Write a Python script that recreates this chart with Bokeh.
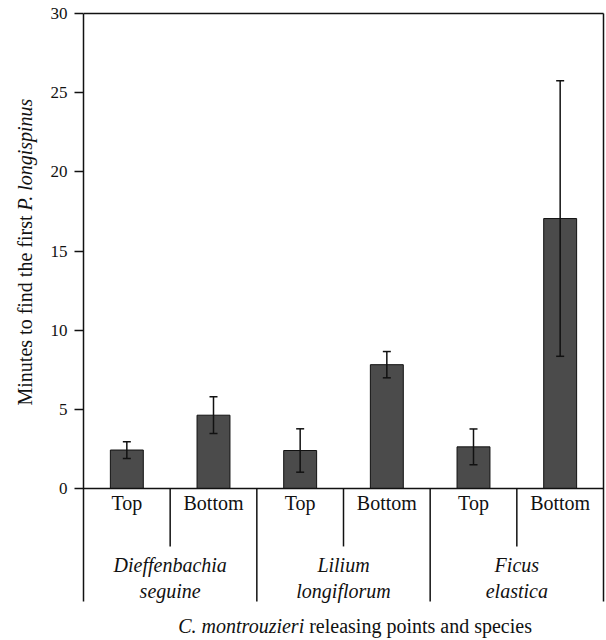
import math
from bokeh.plotting import figure
from bokeh.layouts import row
from bokeh.models import Range1d, FixedTicker, Label, Whisker, ColumnDataSource, TeeHead
from bokeh.core.properties import value
from bokeh.embed import file_html
from bokeh.resources import INLINE

# ---- data ----
species = ["Dieffenbachia seguine", "Lilium longiflorum", "Ficus elastica"]
positions = ["Top", "Bottom"]
means = [2.43, 4.63, 2.40, 7.82, 2.63, 17.05]
errors = [0.53, 1.16, 1.37, 0.83, 1.13, 8.70]
y_ticks = [0, 5, 10, 15, 20, 25, 30]
y_title_plain = "Minutes to find the first"
y_title_italic = "P. longispinus"
x_title_italic = "C. montrouzieri"
x_title_plain = "releasing points and species"

# ---- layout constants (page pixels) ----
H = 640
TITLE_W = 40            # width of the narrow figure holding the y title
MAIN_W = 606 - TITLE_W
FRAME_LEFT = 83         # page x of the value axis
N = len(species) * len(positions)
PX_X = 520 / N          # px per x unit
PX_Y = 475 / 30         # px per y unit
Y_TOP = 30 + 13 / PX_Y
Y_BOT = Y_TOP - H / PX_Y
FONT = "Liberation Serif"
FS = "20px"
INK = "#111111"
SUB_DEPTH = -3.66
GRP_DEPTH = -7.14
BASE_FIX = 8            # svg text baseline compensation (px)


def cy(page_y):
    return Y_TOP - (page_y - BASE_FIX) / PX_Y


def cx(page_x):
    return (page_x - FRAME_LEFT) / PX_X


y_range = Range1d(Y_BOT, Y_TOP)

p = figure(width=MAIN_W, height=H, x_range=Range1d(0, (606 - FRAME_LEFT) / PX_X),
           y_range=y_range, output_backend="svg",
           toolbar_location=None, x_axis_location=None,
           min_border_left=FRAME_LEFT - TITLE_W, min_border_right=0,
           min_border_top=0, min_border_bottom=0)
p.outline_line_color = None
p.grid.visible = False

ax = p.yaxis[0]
ax.ticker = FixedTicker(ticks=y_ticks)
ax.bounds = (GRP_DEPTH, 30)
ax.minor_tick_line_color = None
ax.major_tick_in = 0
ax.major_tick_out = 9
ax.axis_line_width = 1.5
ax.axis_line_color = INK
ax.major_tick_line_width = 1.5
ax.major_tick_line_color = INK
ax.major_label_text_font = FONT
ax.major_label_text_font_size = "17px"
ax.major_label_text_color = INK
ax.major_label_standoff = 7

xs = [i + 0.5 for i in range(N)]
cats = [pos for _ in species for pos in positions]
src = ColumnDataSource(dict(x=xs, top=means,
                            upper=[m + e for m, e in zip(means, errors)],
                            lower=[m - e for m, e in zip(means, errors)],
                            cat=cats))

p.vbar(x="x", top="top", bottom=0, width=0.38, source=src,
       fill_color="#4b4b4b", line_color=INK, line_width=1)

wh = Whisker(source=src, base="x", upper="upper", lower="lower",
             line_color=INK, line_width=1.5, level="annotation",
             upper_head=TeeHead(size=8, line_width=1.5, line_color=INK),
             lower_head=TeeHead(size=8, line_width=1.5, line_color=INK))
p.add_layout(wh)

# frame lines
p.segment(x0=[0], y0=[30], x1=[N], y1=[30], line_color=INK, line_width=1.5)
p.segment(x0=[N], y0=[30], x1=[N], y1=[GRP_DEPTH], line_color=INK, line_width=1.5)
p.segment(x0=[0], y0=[0], x1=[N], y1=[0], line_color=INK, line_width=1.5)

# category separators
np_ = len(positions)
sub_x = [g * np_ + k for g in range(len(species)) for k in range(1, np_)]
grp_x = [g * np_ for g in range(1, len(species))]
p.segment(x0=sub_x, y0=[0] * len(sub_x), x1=sub_x, y1=[SUB_DEPTH] * len(sub_x),
          line_color=INK, line_width=1.5)
p.segment(x0=grp_x, y0=[0] * len(grp_x), x1=grp_x, y1=[GRP_DEPTH] * len(grp_x),
          line_color=INK, line_width=1.5)

# category labels
p.text(x="x", y=cy(510), text="cat", source=src, text_font=value(FONT),
       text_font_size=value(FS), text_align="center",
       text_baseline="alphabetic", text_color=INK)

gx = [g * np_ + np_ / 2 for g in range(len(species))]
line1 = [s.split(" ")[0] for s in species]
line2 = [s.split(" ")[1] for s in species]
p.text(x=gx, y=[cy(572)] * len(gx), text=line1, text_font=value(FONT),
       text_font_size=value(FS), text_font_style="italic", text_align="center",
       text_baseline="alphabetic", text_color=INK)
p.text(x=gx, y=[cy(598)] * len(gx), text=line2, text_font=value(FONT),
       text_font_size=value(FS), text_font_style="italic", text_align="center",
       text_baseline="alphabetic", text_color=INK)

# x title
x_split = cx(173) + 130.7 / PX_X
p.add_layout(Label(x=x_split, y=cy(633), text=x_title_italic, text_font=FONT,
                   text_font_size=FS, text_font_style="italic",
                   text_align="right", text_baseline="alphabetic", text_color=INK))
p.add_layout(Label(x=x_split + 5 / PX_X, y=cy(633), text=x_title_plain, text_font=FONT,
                   text_font_size=FS, text_align="left",
                   text_baseline="alphabetic", text_color=INK))

# y title in a narrow figure sharing the y scale
t = figure(width=TITLE_W, height=H, x_range=Range1d(0, TITLE_W), y_range=y_range,
           output_backend="svg", toolbar_location=None,
           x_axis_location=None, y_axis_location=None,
           min_border_left=0, min_border_right=0, min_border_top=0, min_border_bottom=0)
t.outline_line_color = None
t.grid.visible = False
y_start = 15 - 154.5 / PX_Y
y_split = y_start + 190 / PX_Y
t.text(x=[32 - BASE_FIX], y=[y_split], text=[y_title_plain], text_font=value(FONT),
       text_font_size=value(FS), angle=math.pi / 2, text_align="right",
       text_baseline="alphabetic", text_color=INK)
t.text(x=[32 - BASE_FIX], y=[y_split + 5 / PX_Y], text=[y_title_italic], text_font=value(FONT),
       text_font_size=value(FS), text_font_style="italic", angle=math.pi / 2,
       text_align="left", text_baseline="alphabetic", text_color=INK)

layout = row(t, p, spacing=0)
open("out.html", "w").write(file_html(layout, INLINE))
